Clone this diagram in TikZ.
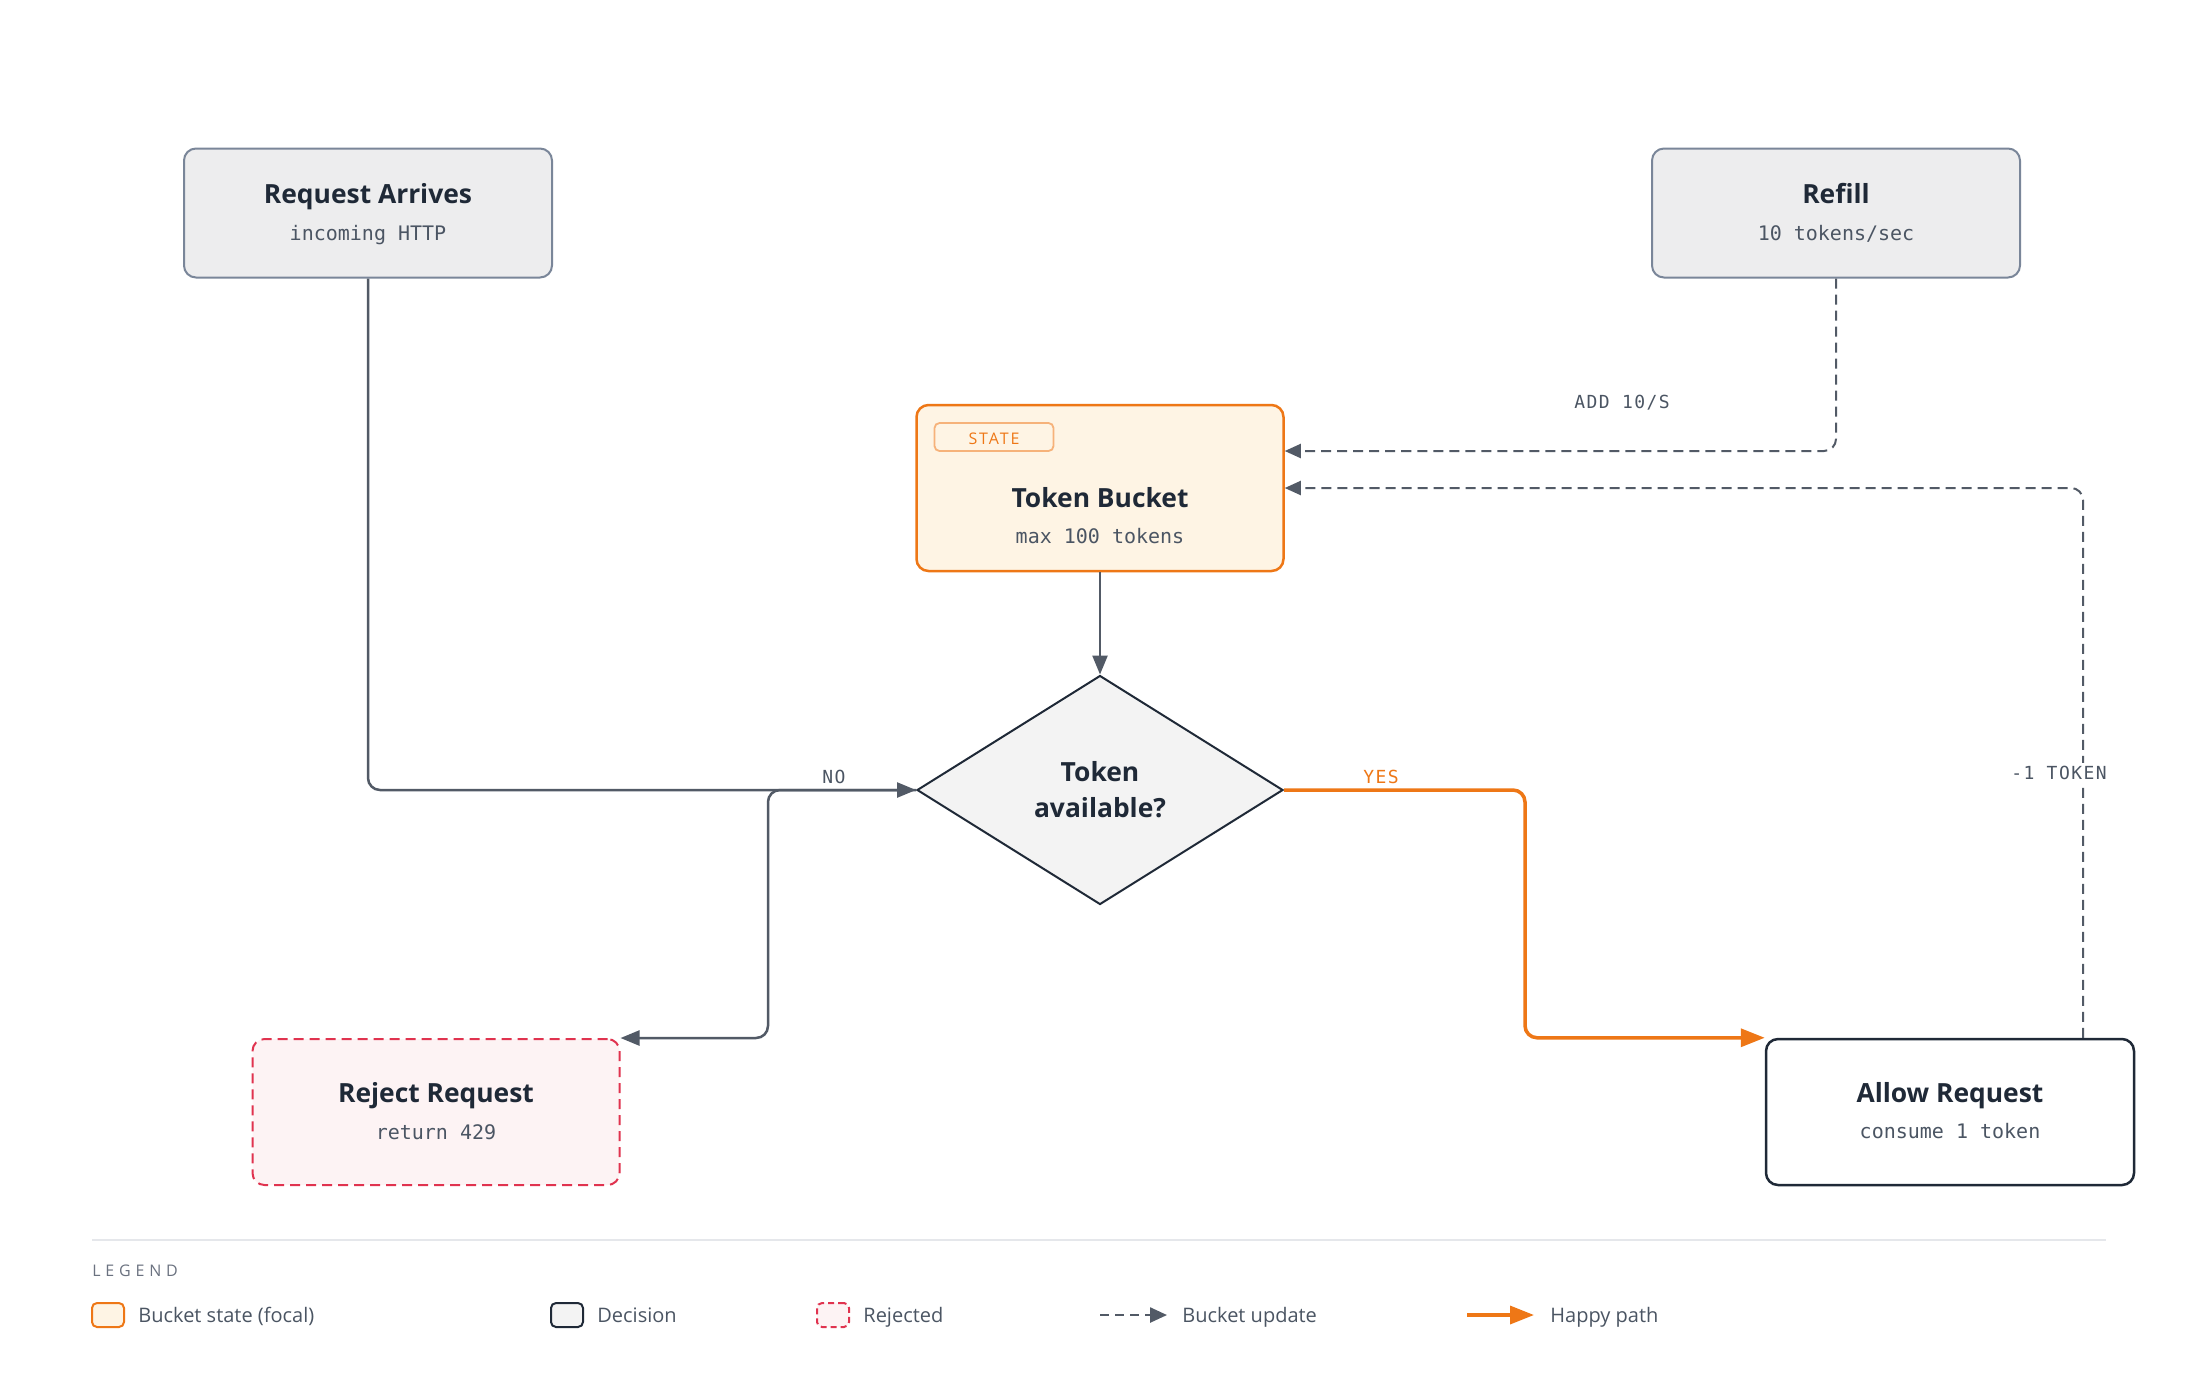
\documentclass[tikz,border=0pt]{standalone}
\usepackage{fontspec}
\setmainfont{Open Sans}
\newfontfamily\monofont{DejaVu Sans Mono}
\newfontfamily\lblfont[LetterSpace=8]{DejaVu Sans Mono}
\newfontfamily\tagfont[LetterSpace=12]{Open Sans}
\newfontfamily\legheadfont[LetterSpace=30]{Open Sans}
\usetikzlibrary{shapes.geometric,arrows.meta}
\definecolor{ink}{HTML}{1F2937}
\definecolor{subc}{HTML}{4B5563}
\definecolor{edgec}{HTML}{525A66}
\definecolor{boxgray}{HTML}{EDEDEE}
\definecolor{boxline}{HTML}{7A8699}
\definecolor{accent}{HTML}{EE7716}
\definecolor{cream}{HTML}{FEF4E4}
\definecolor{tagline}{HTML}{F6B27A}
\definecolor{diafill}{HTML}{F3F3F3}
\definecolor{rejline}{HTML}{E0334F}
\definecolor{rejfill}{HTML}{FDF3F4}
\definecolor{rulec}{HTML}{E5E7EB}
\definecolor{legc}{HTML}{6B7280}
\begin{document}
\begin{tikzpicture}[x=0.5pt,y=-0.5pt,
  box/.style={rectangle, rounded corners=6pt, inner sep=0pt, line width=1pt},
  greybox/.style={box, draw=boxline, fill=boxgray, minimum width=184pt, minimum height=64.5pt},
  ttl/.style={font=\bfseries\fontsize{13.2}{15}\selectfont, text=ink, anchor=base, inner sep=0pt},
  subt/.style={font=\monofont\fontsize{10}{12}\selectfont, text=subc, anchor=base, inner sep=0pt},
  conn/.style={draw=edgec, line width=1.25pt, rounded corners=6pt, -{Triangle[length=9.5pt,width=7.5pt]}},
  upd/.style={draw=edgec, line width=1pt, dash pattern=on 5pt off 3pt, rounded corners=6pt, -{Triangle[length=8pt,width=7pt]}},
  happy/.style={draw=accent, line width=1.75pt, rounded corners=6pt, -{Triangle[length=12pt,width=9pt]}},
  lbl/.style={font=\lblfont\fontsize{9}{11}\selectfont, text=subc, anchor=base, fill=white, inner xsep=3pt, inner ysep=1.5pt},
  legsq/.style={rectangle, rounded corners=2.5pt, minimum width=16pt, minimum height=12pt, inner sep=0pt, line width=1pt},
  legtxt/.style={font=\fontsize{10}{12}\selectfont, text=subc, anchor=base west, inner sep=0pt}
]
\useasboundingbox[fill=white] (0,0) rectangle (2200,1378);

% nodes
\node[greybox] (req) at (368,213) {};
\node[ttl] (reqT) at (368,203) {Request Arrives};
\node[subt] (reqS) at (368,240) {incoming HTTP};

\node[greybox] (refill) at (1836,213) {};
\node[ttl] (refT) at (1836,203) {Refill};
\node[subt] (refS) at (1836,240) {10 tokens/sec};

\node[box, draw=accent, fill=cream, line width=1.25pt, minimum width=183.5pt, minimum height=83pt] (bucket) at (1100,488) {};
\node[rectangle, rounded corners=2.5pt, draw=tagline, line width=0.9pt, minimum width=59.5pt, minimum height=14pt, inner sep=0pt] (tag) at (994,437) {};
\node[font=\tagfont\fontsize{8}{10}\selectfont, text=accent, anchor=base, inner sep=0pt] (tagT) at (994,444) {STATE};
\node[ttl] (bucT) at (1100,507) {Token Bucket};
\node[subt] (bucS) at (1100,543) {max 100 tokens};

\node[diamond, draw=ink, fill=diafill, line width=1pt, minimum width=183pt, minimum height=114.5pt, inner sep=0pt] (dec) at (1100,790) {};
\node[ttl] (decT1) at (1100,781) {Token};
\node[ttl] (decT2) at (1100,817) {available?};

\node[box, draw=rejline, fill=rejfill, dash pattern=on 5pt off 3pt, minimum width=183.5pt, minimum height=73pt] (rej) at (436,1112) {};
\node[ttl] (rejT) at (436,1102) {Reject Request};
\node[subt] (rejS) at (436,1139) {return 429};

\node[box, draw=ink, fill=white, line width=1.25pt, minimum width=184pt, minimum height=73pt] (allow) at (1950,1112) {};
\node[ttl] (allT) at (1950,1102) {Allow Request};
\node[subt] (allS) at (1950,1138) {consume 1 token};

% connectors
\draw[conn] (req.south) |- (dec.west);
\draw[conn] (dec.west) -- ++(-148,0) |- (rej.north east);
\draw[conn] (bucket.south) -- (dec.north);
\draw[happy] (dec.east) -- ++(241,0) |- (allow.north west);
\draw[upd] (refill.south) |- ([yshift=18.5pt]bucket.east);
\draw[upd] ([xshift=66.5pt]allow.north) |- (bucket.east);

% labels
\node[lbl] (lNo) at (834,783) {NO};
\node[lbl, text=accent] (lYes) at (1381,783) {YES};
\node[lbl, fill=none] (lAdd) at (1622,408) {ADD 10/S};
\node[lbl] (lTok) at (2059,779) {-1 TOKEN};

% legend
\coordinate (r1) at (92,1240);
\coordinate (r2) at (2106,1240);
\draw[rulec, line width=1.2pt] (r1) -- (r2);
\node[font=\legheadfont\fontsize{8}{10}\selectfont, text=legc, anchor=base west, inner sep=0pt] (legH) at (92,1276) {LEGEND};

\node[legsq, draw=accent, fill=cream] (k1) at (108,1315) {};
\node[legtxt] (k1t) at (138,1322) {Bucket state (focal)};
\node[legsq, draw=ink, fill=diafill] (k2) at (567,1315) {};
\node[legtxt] (k2t) at (597,1322) {Decision};
\node[legsq, draw=rejline, fill=rejfill, dash pattern=on 3pt off 2pt] (k3) at (833,1315) {};
\node[legtxt] (k3t) at (863,1322) {Rejected};
\coordinate (d1) at (1100,1315);
\coordinate (d2) at (1167,1315);
\draw[draw=edgec, line width=1.25pt, dash pattern=on 4.5pt off 3pt, -{Triangle[length=8.5pt,width=7.5pt]}] (d1) -- (d2);
\node[legtxt] (k4t) at (1182,1322) {Bucket update};
\coordinate (h1) at (1467,1315);
\coordinate (h2) at (1534,1315);
\draw[draw=accent, line width=1.75pt, -{Triangle[length=12pt,width=9pt]}] (h1) -- (h2);
\node[legtxt] (k5t) at (1550,1322) {Happy path};
\end{tikzpicture}
\end{document}
